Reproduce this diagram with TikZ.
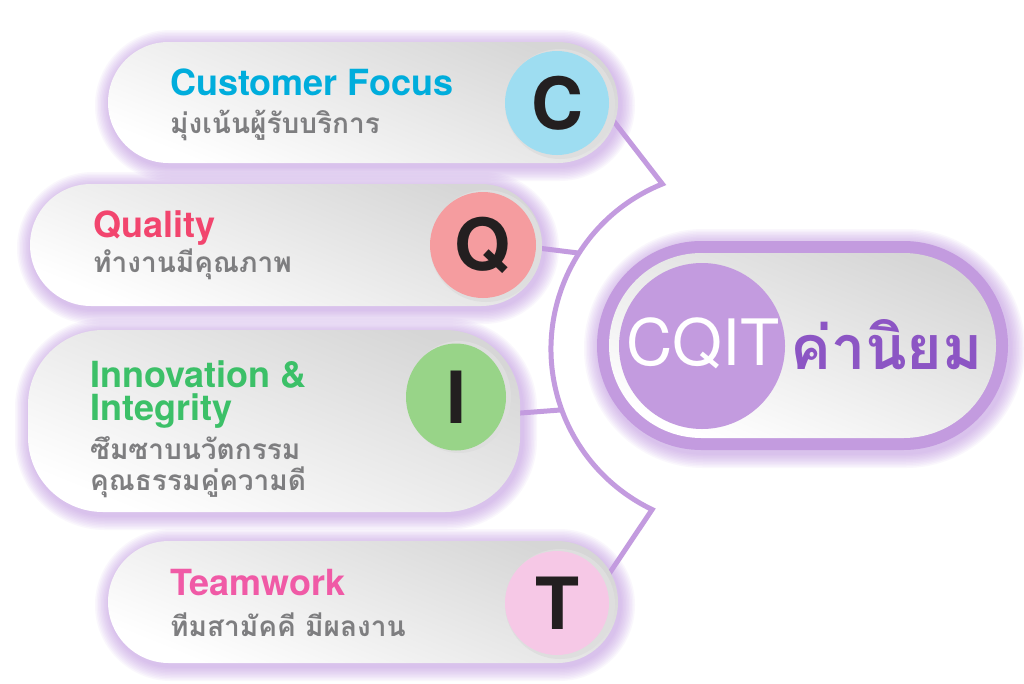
\documentclass[tikz,border=0pt]{standalone}
\usepackage{fontspec}
\setmainfont{TeX Gyre Heros}
\newfontfamily\thaifont[Script=Thai]{Loma}
\usetikzlibrary{calc,shapes.geometric}
\definecolor{purp}{HTML}{C39BDF}
\definecolor{purpdark}{HTML}{8C55C4}
\definecolor{glowcol}{HTML}{B98AE0}
\definecolor{thaigray}{HTML}{7E7E80}
\definecolor{letter}{HTML}{231F20}
\definecolor{colCt}{HTML}{00ADDC}
\definecolor{colQt}{HTML}{F2456E}
\definecolor{colIt}{HTML}{3CC068}
\definecolor{colTt}{HTML}{F05AA6}
\definecolor{colC}{HTML}{9EDDF1}
\definecolor{colQ}{HTML}{F59C9F}
\definecolor{colI}{HTML}{98D488}
\definecolor{colT}{HTML}{F6C8E6}
\pgfdeclarelayer{glow}
\pgfdeclarelayer{bg}
\pgfsetlayers{glow,bg,main}
\newcommand\pillglow[5]{%
  \foreach \k in {1,...,10}{%
    \pgfmathsetmacro\rr{#5+1.5*\k}%
    \fill[glowcol, fill opacity=0.065, rounded corners=\rr pt]
      ({#1-#3/2-1.5*\k+2},{#2-#4/2-1.5*\k+3}) rectangle ({#1+#3/2+1.5*\k+2},{#2+#4/2+1.5*\k+3});
  }}
\tikzset{
  pill/.style={rectangle, rounded corners=#1, inner sep=0pt, top color=black!16, bottom color=white, shading angle=-22},
  badge/.style={circle, inner sep=0pt, minimum size=104pt, text=letter, font=\bfseries\fontsize{72}{72}\selectfont},
  head/.style={anchor=base west, inner sep=0pt, font=\bfseries\fontsize{36}{40}\selectfont},
  sub/.style={anchor=base west, inner sep=0pt, text=thaigray, font=\thaifont\bfseries\fontsize{28}{32}\selectfont},
  conn/.style={draw=purp, line width=5pt, line join=miter}
}
\begin{document}
\begin{tikzpicture}[x=1pt,y=-1pt]
\useasboundingbox (0,0) rectangle (1024,683);

\begin{pgfonlayer}{glow}
\fill[white] (0,0) rectangle (1024,683);
\pillglow{363}{102.5}{510}{121}{60.5}
\pillglow{286}{245}{512}{122}{61}
\pillglow{274}{421}{492}{182}{75}
\pillglow{363}{602}{510}{122}{61}
\pillglow{802.5}{345.5}{411}{209}{104.5}
\end{pgfonlayer}

% pills
\node[pill=60.5pt, minimum width=510pt, minimum height=121pt] (pC) at (363,102.5) {};
\node[pill=61pt, minimum width=512pt, minimum height=122pt] (pQ) at (286,245) {};
\node[pill=75pt, minimum width=492pt, minimum height=182pt] (pI) at (274,421) {};
\node[pill=61pt, minimum width=510pt, minimum height=122pt] (pT) at (363,602) {};

% badge rings
\fill[black!13] (560,104) circle[radius=55pt];
\fill[black!13] (486,246) circle[radius=56pt];
\fill[black!13] (459,397) ellipse[x radius=52pt, y radius=56pt];
\fill[black!13] (560,604) circle[radius=55pt];

% badges
\node[badge, fill=colC] (cC) at (557,103) {C};
\node[badge, fill=colQ, minimum size=106pt] (cQ) at (483,245) {Q};
\node[ellipse, inner sep=0pt, minimum width=100pt, minimum height=107pt, fill=colI, text=letter, font=\bfseries\fontsize{72}{72}\selectfont] (cI) at (456,397) {I};
\node[badge, fill=colT] (cT) at (557,603) {T};

% texts
\node[head, text=colCt] (tC) at (170,95) {Customer Focus};
\node[sub] (sC) at (170,133) {มุ่งเน้นผู้รับบริการ};
\node[head, text=colQt] (tQ) at (93,237) {Quality};
\node[sub] (sQ) at (93,272) {ทำงานมีคุณภาพ};
\node[head, text=colIt] (tI1) at (90,387) {Innovation \&};
\node[head, text=colIt] (tI2) at (90,420) {Integrity};
\node[sub] (sI1) at (90,459) {ซึมซาบนวัตกรรม};
\node[sub] (sI2) at (90,490) {คุณธรรมคู่ความดี};
\node[head, text=colTt] (tT) at (170,595) {Teamwork};
\node[sub] (sT) at (170,636) {ทีมสามัคคี มีผลงาน};

% centre
\node[rectangle, rounded corners=104.5pt, fill=purp, minimum width=411pt, minimum height=209pt, inner sep=0pt] (cen) at (802.5,345.5) {};
\node[pill=92.5pt, minimum width=387pt, minimum height=185pt] (ceni) at (802.5,345.5) {};
\node[circle, fill=purp, minimum size=166pt, inner sep=0pt] (hubc) at (702,346) {};
\node[anchor=base, inner sep=0pt, text=white, font=\fontsize{64}{64}\selectfont] (cqit) at (703,365) {CQIT};
\node[anchor=base west, inner sep=0pt, text=purpdark, font=\thaifont\bfseries\fontsize{61}{66}\selectfont] (kn) at (790,369) {ค่านิยม};

% connectors
\coordinate (hub) at (729,349);
\coordinate (tip1) at ($(hub)+(112:178pt)$);
\coordinate (tip2) at ($(hub)+(244.4:178pt)$);
\coordinate (jQ) at ($(hub)+(147.4:178pt)$);
\coordinate (jI) at ($(hub)+(200:178pt)$);
\begin{pgfonlayer}{bg}
\draw[conn] (cC.-12) -- (tip1) arc[start angle=112, end angle=244.4, radius=178pt] -- (cT.25);
\draw[conn] (cQ.-3) -- (jQ);
\draw[conn] (cI.-20) -- (jI);
\draw[purp, line width=2pt, opacity=0.7] (338,662) -- (478,662);
\end{pgfonlayer}
\end{tikzpicture}
\end{document}
